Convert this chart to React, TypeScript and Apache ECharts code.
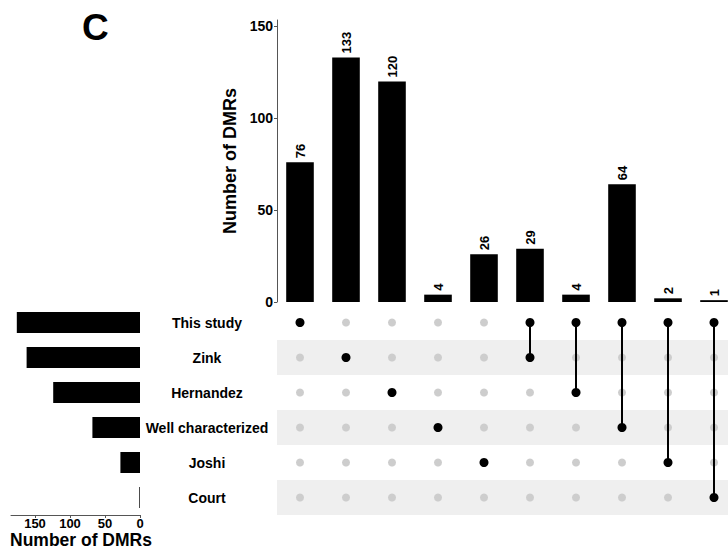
import React, { useEffect, useRef } from "react";
import * as echarts from "echarts";

const setNames = ["This study", "Zink", "Hernandez", "Well characterized", "Joshi", "Court"];
const setSizes = [176, 162, 124, 68, 28, 1];
const intersectionMembers: string[][] = [
  ["This study"],
  ["Zink"],
  ["Hernandez"],
  ["Well characterized"],
  ["Joshi"],
  ["This study", "Zink"],
  ["This study", "Hernandez"],
  ["This study", "Well characterized"],
  ["This study", "Joshi"],
  ["This study", "Court"],
];
const intersectionSizes = [76, 133, 120, 4, 26, 29, 4, 64, 2, 1];
const topTicks = [0, 50, 100, 150];
const leftTicks = [0, 50, 100, 150];
const axisTitle = "Number of DMRs";

const FONT = "'Liberation Sans', Arial, sans-serif";

export default function App() {
  const ref = useRef<HTMLDivElement>(null);
  useEffect(() => {
    if (!ref.current) return;
    const chart = echarts.init(ref.current, null, { renderer: "svg" });
    const colNames = intersectionMembers.map((m) => m.join(" & "));
    const grayCells: any[] = [];
    const blackCells: any[] = [];
    colNames.forEach((c, ci) => {
      setNames.forEach((s) => {
        if (intersectionMembers[ci].includes(s)) blackCells.push([c, s]);
        else grayCells.push([c, s]);
      });
    });
    const lineSeries = intersectionMembers
      .map((m, ci) => ({ m, ci }))
      .filter((o) => o.m.length > 1)
      .map((o) => ({
        type: "line",
        xAxisIndex: 2,
        yAxisIndex: 2,
        data: o.m.map((s) => [colNames[o.ci], s]),
        symbol: "none",
        lineStyle: { color: "#000", width: 2 },
        z: 3,
        silent: true,
      }));
    const axisGray = "#555";
    chart.setOption({
      animation: false,
      textStyle: { fontFamily: FONT },
      graphic: [
        {
          type: "text",
          left: 82,
          top: 9,
          style: { text: "C", fontSize: 37, fontWeight: "bold", fontFamily: FONT, fill: "#000" },
        },
        {
          type: "text",
          left: 10,
          top: 531,
          style: {
            text: axisTitle,
            fontSize: 17.5,
            lineHeight: 17,
            fontWeight: "bold",
            fontFamily: FONT,
            fill: "#000",
          },
        },
      ],
      grid: [
        { left: 277, top: 20, width: 460, height: 282, outerBoundsMode: "none", containLabel: false },
        { left: 11, top: 305, width: 129, height: 210, outerBoundsMode: "none", containLabel: false },
        { left: 277, top: 305, width: 460, height: 210, outerBoundsMode: "none", containLabel: false },
      ],
      xAxis: [
        {
          type: "category",
          gridIndex: 0,
          data: colNames,
          axisLine: { show: false },
          axisTick: { show: false },
          axisLabel: { show: false },
        },
        {
          type: "value",
          gridIndex: 1,
          inverse: true,
          min: 0,
          max: 184.3,
          splitLine: { show: false },
          axisLine: { show: true, lineStyle: { color: axisGray, width: 1 } },
          axisTick: { show: true, length: 3, customValues: leftTicks, lineStyle: { color: axisGray } },
          axisLabel: {
            customValues: leftTicks,
            color: "#000",
            fontWeight: "bold",
            fontSize: 13,
            lineHeight: 13,
            margin: 2,
            fontFamily: FONT,
          },
        },
        {
          type: "category",
          gridIndex: 2,
          data: colNames,
          axisLine: { show: false },
          axisTick: { show: false },
          axisLabel: { show: false },
        },
      ],
      yAxis: [
        {
          type: "value",
          gridIndex: 0,
          min: 0,
          max: 153.4,
          splitLine: { show: false },
          axisLine: { show: true, lineStyle: { color: axisGray, width: 1 } },
          axisTick: { show: true, length: 3, customValues: topTicks, lineStyle: { color: axisGray } },
          axisLabel: {
            customValues: topTicks,
            color: "#000",
            fontWeight: "bold",
            fontSize: 14,
            margin: 4,
            fontFamily: FONT,
          },
          name: axisTitle,
          nameLocation: "middle",
          nameGap: 34,
          nameRotate: 90,
          nameTextStyle: { color: "#000", fontWeight: "bold", fontSize: 18, fontFamily: FONT },
        },
        {
          type: "category",
          gridIndex: 1,
          data: setNames,
          inverse: true,
          position: "right",
          axisLine: { show: false },
          axisTick: { show: false },
          axisLabel: {
            color: "#000",
            fontWeight: "bold",
            fontSize: 14,
            align: "center",
            margin: 67,
            fontFamily: FONT,
          },
        },
        {
          type: "category",
          gridIndex: 2,
          data: setNames,
          inverse: true,
          axisLine: { show: false },
          axisTick: { show: false },
          axisLabel: { show: false },
          splitLine: { show: false },
          splitArea: { show: true, areaStyle: { color: ["rgba(255,255,255,0)", "#efefef"] } },
        },
      ],
      series: [
        {
          type: "bar",
          xAxisIndex: 0,
          yAxisIndex: 0,
          data: intersectionSizes,
          barWidth: "60%",
          itemStyle: { color: "#000" },
          label: {
            show: true,
            position: "top",
            rotate: 90,
            align: "left",
            verticalAlign: "middle",
            distance: 4,
            color: "#000",
            fontWeight: "bold",
            fontSize: 13,
            fontFamily: FONT,
          },
        },
        {
          type: "bar",
          xAxisIndex: 1,
          yAxisIndex: 1,
          data: setSizes,
          barWidth: "60%",
          itemStyle: { color: "#000" },
        },
        {
          type: "scatter",
          xAxisIndex: 2,
          yAxisIndex: 2,
          data: grayCells,
          symbolSize: 8,
          itemStyle: { color: "#cdcdcd", opacity: 1 },
          z: 2,
        },
        ...lineSeries,
        {
          type: "scatter",
          xAxisIndex: 2,
          yAxisIndex: 2,
          data: blackCells,
          symbolSize: 9,
          itemStyle: { color: "#000", opacity: 1 },
          z: 4,
        },
      ],
    });
    return () => chart.dispose();
  }, []);
  return (
    <div
      ref={ref}
      style={{ position: "fixed", left: 0, top: 0, width: 728, height: 550, background: "#fff" }}
    />
  );
}
